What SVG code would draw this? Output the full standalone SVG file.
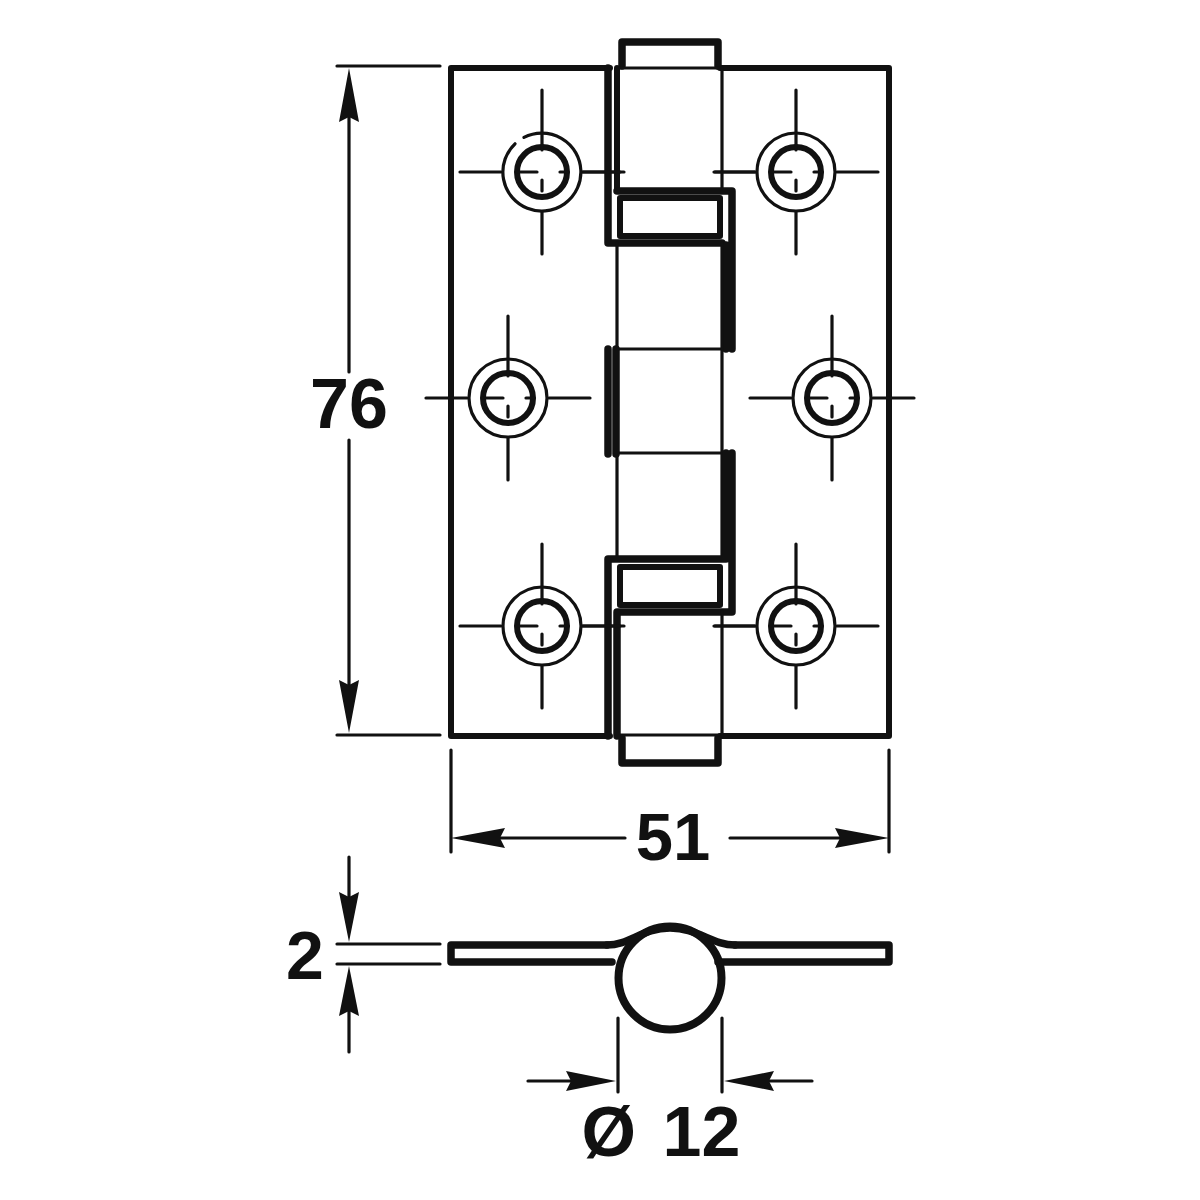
<svg xmlns="http://www.w3.org/2000/svg" width="1200" height="1200" viewBox="0 0 1200 1200">
<style>
.k{fill:none;stroke:#111;stroke-linejoin:round;stroke-linecap:round}
.w5{stroke-width:6}.w7{stroke-width:7.5}.w3{stroke-width:3.2}.w2{stroke-width:2.8}
.t{font-family:"Liberation Sans",Arial,sans-serif;font-weight:bold;fill:#111;text-anchor:middle}
.a{fill:#111}
</style>
<defs>
<g id="hole">
<circle class="k" r="25" stroke-width="6"/>
<path class="k w3" d="M0-82V-22M0 8V19M0 40V82M-82 0H-41M-25 0H-5M18 0H26M41 0H82"/>
</g>
<circle id="ring" class="k w3" r="39"/>
</defs>
<rect width="1200" height="1200" fill="#fff"/>
<g id="plate-left"><path class="k w5" d="M610 68H451V736H610"/></g>
<g id="plate-right"><path class="k w5" d="M720 68H889V736H720"/></g>
<g id="hinge-knuckles">
<path class="k w7" d="M622 66V42H718V66"/>
<path class="k w7" d="M622 738V763H718V738"/>
<path class="k w3" d="M620 68H720M620 735H720"/>
<path class="k w7" d="M608 68V243H722"/>
<path class="k w5" d="M617 68V190"/>
<path class="k w3" d="M722 68V190"/>
<path class="k w7" d="M617 191H732V349M726 245V349"/>
<rect class="k w5" x="620" y="198" width="100" height="38"/>
<path class="k w3" d="M617 243V559M722 243V559M617 349H722M617 453H722"/>
<path class="k w7" d="M608 349V454M616 349V454"/>
<path class="k w7" d="M726 453V559M732 453V612H617M608 559V736M608 559H725M617 612V736"/>
<rect class="k w5" x="620" y="567" width="100" height="38"/>
<path class="k w3" d="M722 612V736"/>
</g>
<g id="hole-1"><use href="#hole" x="542" y="172"/><path class="k w3" d="M582 172H620"/><path class="k w3" transform="translate(542 172)" d="M-18 -34.6A39 39 0 1 1 -27 -28.2"/></g>
<g id="hole-2"><use href="#hole" x="796" y="172"/><use href="#ring" x="796" y="172"/><path class="k w3" d="M715 172H755"/></g>
<g id="hole-3"><use href="#hole" x="508" y="398"/><use href="#ring" x="508" y="398"/></g>
<g id="hole-4"><use href="#hole" x="832" y="398"/><use href="#ring" x="832" y="398"/></g>
<g id="hole-5"><use href="#hole" x="542" y="626"/><use href="#ring" x="542" y="626"/><path class="k w3" d="M582 626H620"/></g>
<g id="hole-6"><use href="#hole" x="796" y="626"/><use href="#ring" x="796" y="626"/><path class="k w3" d="M715 626H755"/></g>
<g id="side-view">
<path class="k w7" d="M607 945H451V962H612M735 945H889V962H718"/>
<path d="M607 945C630 945 642 928 670 928C698 928 712 945 735 945" class="k w7"/>
<circle class="k" cx="670" cy="978" r="51.5" stroke-width="8"/>
</g>
<g id="dimensions">
<path class="k w3" d="M337 66H440M337 735H440M349 105V372M349 440V700M451 750V852M889 750V852M500 838H625M730 838H840M337 944H440M337 964H440M349 857V900M349 1010V1052M618 1018V1092M722 1018V1092M528 1081H575M765 1081H812"/>
<path class="a" d="M349 68L359 122L349 117L339 122ZM349 733L339 680L349 685L359 680ZM451 838L505 828L500 838L505 848ZM889 838L835 848L840 838L835 828ZM349 942L339 892L349 897L359 892ZM349 966L359 1016L349 1011L339 1016ZM616 1081L566 1091L571 1081L566 1071ZM724 1081L774 1071L769 1081L774 1091Z"/>
<text class="t" x="349" y="428" font-size="70">76</text>
<text class="t" x="673" y="860" font-size="67">51</text>
<text class="t" x="305" y="979" font-size="68">2</text>
<text class="t" x="661" y="1156" font-size="70" word-spacing="7">Ø 12</text>
</g>
</svg>
